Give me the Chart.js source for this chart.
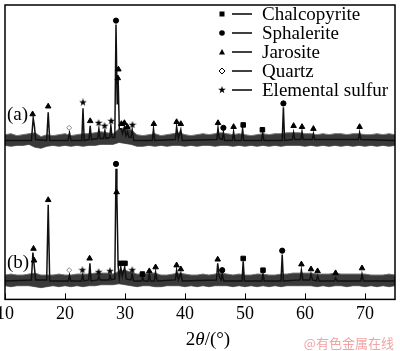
<!DOCTYPE html>
<html>
<head>
<meta charset="utf-8">
<script src="https://cdn.jsdelivr.net/npm/chart.js@4/dist/chart.umd.min.js"></script>
<style>html,body{margin:0;padding:0;background:#fff}</style>
</head>
<body>
<canvas id="xrd" width="400" height="351"></canvas>
<script>
// 2theta / intensity (a.u.) of the two patterns
const traceA_x = [10, 14.4, 14.7, 14.9, 15.1, 16.95, 17.2, 17.45, 20.5, 20.75, 21.0, 22.8, 23.0, 23.2,
  24.0, 24.2, 24.4, 25.45, 25.65, 25.85, 26.45, 26.65, 26.85, 27.45, 27.65, 27.85,
  28.3, 28.5, 28.7, 28.85, 29.05, 29.35, 29.6, 29.9, 30.15, 30.4, 30.7, 31.0, 31.2, 31.45,
  34.55, 34.75, 34.95, 38.4, 38.6, 38.9, 39.3, 39.55, 45.3, 45.5, 45.7, 46.2, 46.4, 46.6,
  47.9, 48.1, 48.3, 49.4, 49.6, 49.8, 52.75, 52.95, 53.15, 56.2, 56.4, 56.6,
  57.9, 58.1, 58.3, 59.3, 59.5, 59.7, 61.2, 61.4, 61.6, 68.9, 69.1, 69.3, 75];
const traceA_y = [163, 163, 186, 178, 164, 163, 192, 163, 163, 171, 163, 163, 196, 163,
  164, 178, 164, 165, 175, 165, 165, 173, 165, 166, 178, 166,
  166, 282, 200, 229, 175, 175, 170, 177, 168, 172, 166, 166, 174, 163,
  163, 175, 163, 164, 177, 165, 174, 163, 164, 176, 165, 164, 171, 163,
  163, 172, 163, 163, 175, 163, 163, 170, 163, 163, 197, 163,
  164, 171, 164, 164, 172, 164, 164, 170, 164, 164, 171, 164, 163];

const traceB_x = [10, 14.4, 14.65, 14.85, 15.1, 16.95, 17.2, 17.45, 20.55, 20.75, 20.95, 22.75, 22.95, 23.15,
  23.95, 24.15, 24.35, 25.45, 25.65, 25.85, 27.3, 27.5, 27.7,
  28.3, 28.5, 28.65, 28.85, 29.05, 29.3, 29.55, 29.95, 30.2, 31.0, 31.2, 31.45,
  32.75, 32.95, 33.15, 33.85, 34.05, 34.25, 34.9, 35.1, 35.35, 38.4, 38.6, 38.9, 39.3, 39.55,
  45.25, 45.45, 45.7, 46.0, 46.2, 46.45, 49.5, 49.7, 49.9, 52.8, 53.0, 53.2, 56.0, 56.2, 56.4,
  59.2, 59.4, 59.65, 60.8, 61.0, 61.25, 61.9, 62.1, 62.35, 64.9, 65.1, 65.35, 69.3, 69.5, 69.75, 75];
const traceB_y = [19, 20, 48, 36, 20, 20, 97, 19, 19, 25, 19, 19, 25, 19,
  20, 37, 19, 20, 24, 20, 20, 25, 20,
  21, 134, 105, 35, 22, 33, 24, 33, 21, 20, 26, 19,
  19, 23, 19, 19, 26, 19, 19, 28, 19, 20, 30, 20, 27, 19,
  20, 37, 24, 20, 26, 19, 19, 39, 19, 19, 26, 19, 19, 46, 19,
  20, 30, 20, 20, 26, 20, 19, 24, 19, 19, 22, 19, 19, 26, 19, 19];

// noise band envelope, one value per degree from 10 to 75
const bandX = [10, 11, 12, 13, 14, 15, 16, 17, 18, 19, 20, 21, 22, 23, 24, 25, 26, 27, 28, 29, 30, 31, 32, 33, 34, 35,
  36, 37, 38, 39, 40, 41, 42, 43, 44, 45, 46, 47, 48, 49, 50, 51, 52, 53, 54, 55, 56, 57, 58, 59, 60, 61, 62, 63, 64, 65,
  66, 67, 68, 69, 70, 71, 72, 73, 74, 75];
const bandA_top = [169, 170, 168, 169, 170, 171, 167, 169, 168, 169, 170, 168, 169, 170, 170, 171, 172, 171, 170, 175,
  176, 174, 169, 168, 169, 170, 168, 169, 170, 171, 169, 168, 169, 170, 169, 170, 171, 170, 169, 170, 169, 168, 169, 170,
  169, 170, 170, 171, 171, 171, 170, 170, 169, 170, 169, 170, 170, 169, 170, 170, 169, 169, 170, 169, 170, 169];
const bandA_bot = [158, 157, 158, 158, 159, 156, 155, 157, 158, 157, 158, 157, 158, 157, 158, 158, 159, 159, 159, 161,
  160, 159, 157, 157, 158, 157, 158, 157, 158, 158, 157, 158, 157, 158, 158, 157, 158, 158, 157, 158, 157, 158, 157, 158,
  157, 158, 157, 158, 158, 158, 157, 158, 157, 158, 157, 158, 157, 158, 157, 158, 157, 158, 157, 158, 157, 158];
const bandB_top = [25, 26, 25, 25, 26, 27, 25, 25, 25, 26, 25, 25, 26, 26, 26, 27, 27, 27, 26, 29,
  30, 28, 26, 26, 27, 27, 25, 25, 26, 27, 26, 25, 25, 26, 25, 26, 27, 26, 25, 26, 25, 25, 26, 26,
  25, 25, 26, 26, 27, 27, 27, 27, 26, 26, 26, 27, 26, 26, 26, 26, 26, 25, 25, 25, 26, 25];
const bandB_bot = [14, 13, 14, 14, 14, 13, 12, 13, 14, 13, 14, 13, 14, 13, 14, 14, 15, 15, 15, 16,
  15, 14, 13, 14, 14, 13, 13, 14, 14, 14, 13, 14, 13, 14, 13, 14, 14, 14, 13, 14, 13, 14, 13, 14,
  13, 14, 13, 14, 14, 14, 14, 14, 13, 14, 13, 14, 14, 13, 14, 14, 13, 14, 13, 14, 13, 14];

// phase markers [2theta, height]
const chalcopyrite = [[49.7, 179], [52.9, 174], [29.3, 37], [30.0, 37], [32.9, 26], [49.7, 42], [53.0, 30]];
const sphalerite = [[28.5, 286], [46.4, 176], [56.4, 201], [28.5, 139], [46.2, 30], [56.2, 50]];
const jarosite = [[14.6, 190], [17.2, 198], [24.2, 183], [28.8, 227], [28.9, 236], [29.4, 180], [29.9, 181], [30.4, 177],
  [34.8, 180], [38.6, 182], [39.3, 180], [45.5, 181], [48.1, 177], [58.1, 178], [59.5, 177], [61.4, 175], [69.1, 177],
  [14.75, 52], [14.85, 40], [17.2, 102], [24.1, 42], [28.6, 110], [34.05, 29], [35.1, 33], [38.6, 35], [39.3, 31],
  [45.45, 41], [59.4, 36], [61.0, 31], [62.1, 29], [65.1, 27], [69.5, 32]];
const quartz = [[20.7, 176], [20.7, 30]];
const sulfur = [[23.0, 202], [25.6, 181], [26.6, 178], [27.7, 183], [31.25, 179], [22.9, 30], [25.6, 28], [27.5, 29], [31.2, 30]];

const xTicks = [10, 20, 30, 40, 50, 60, 70];
const legendNames = ["Chalcopyrite", "Sphalerite", "Jarosite", "Quartz", "Elemental sulfur"];

function pts(xs, ys) { return xs.map((x, i) => ({ x: x, y: ys[i] })); }
function pairs(arr) { return arr.map(p => ({ x: p[0], y: p[1] })); }

function starImg(size) {
  const c = document.createElement("canvas");
  c.width = c.height = size;
  const g = c.getContext("2d");
  g.beginPath();
  for (let i = 0; i < 10; i++) {
    const r = i % 2 ? size * 0.2 : size * 0.5;
    const a = -Math.PI / 2 + i * Math.PI / 5;
    g.lineTo(size / 2 + r * Math.cos(a), size / 2 + r * Math.sin(a));
  }
  g.closePath();
  g.fillStyle = "#000";
  g.fill();
  return c;
}
const star = starImg(8);

function band(data, fill) {
  return { type: "line", data: data, borderColor: "#777", borderWidth: 1, backgroundColor: "#3a3a3a",
    pointRadius: 0, fill: fill, order: 2 };
}
function marks(data, style, r, bg, border) {
  return { type: "scatter", data: data, pointStyle: style, pointRadius: r, pointHoverRadius: r,
    backgroundColor: bg, borderColor: border || bg, borderWidth: 1, order: 0 };
}

// draws frame, inner ticks, legend, labels
const extras = {
  id: "extras",
  afterDraw(chart) {
    const c = chart.ctx, a = chart.chartArea, xs = chart.scales.x;
    c.save();
    c.strokeStyle = "#000";
    c.lineWidth = 1.5;
    c.strokeRect(a.left, a.top, a.right - a.left, a.bottom - a.top);
    c.lineWidth = 1;
    xTicks.forEach(t => {
      const px = Math.round(xs.getPixelForValue(t)) + 0.5;
      c.beginPath(); c.moveTo(px, a.bottom); c.lineTo(px, a.bottom - 6); c.stroke();
    });

    // legend
    c.font = "19px 'Liberation Serif'";
    c.textBaseline = "middle";
    legendNames.forEach((name, i) => {
      const y = 14 + i * 19, mx = 222;
      c.fillStyle = "#000";
      c.strokeStyle = "#000";
      c.lineWidth = 1;
      if (i === 0) c.fillRect(mx - 2.5, y - 2.5, 5, 5);
      if (i === 1) { c.beginPath(); c.arc(mx, y, 2.8, 0, Math.PI * 2); c.fill(); }
      if (i === 2) { c.beginPath(); c.moveTo(mx, y - 3); c.lineTo(mx + 3, y + 2.5); c.lineTo(mx - 3, y + 2.5); c.closePath(); c.fill(); }
      if (i === 3) { c.beginPath(); c.moveTo(mx, y - 3); c.lineTo(mx + 3, y); c.lineTo(mx, y + 3); c.lineTo(mx - 3, y); c.closePath(); c.stroke(); }
      if (i === 4) c.drawImage(star, mx - 4, y - 4);
      c.lineWidth = 1.5;
      c.beginPath(); c.moveTo(232, y); c.lineTo(252, y); c.stroke();
      c.fillText(name, 262, y + 1);
    });

    c.fillText("(a)", 7, 115);
    c.fillText("(b)", 7, 263);

    // axis title with italic theta
    const y = 340;
    c.font = "19px 'Liberation Serif'";
    const w1 = c.measureText("2").width, w3 = c.measureText("/(°)").width;
    c.font = "italic 19px 'Liberation Serif'";
    const w2 = c.measureText("θ").width;
    let x = 208 - (w1 + w2 + w3) / 2;
    c.font = "19px 'Liberation Serif'"; c.fillText("2", x, y); x += w1;
    c.font = "italic 19px 'Liberation Serif'"; c.fillText("θ", x, y); x += w2;
    c.font = "19px 'Liberation Serif'"; c.fillText("/(°)", x, y);

    c.font = "13px 'Noto Sans CJK SC'";
    c.fillStyle = "#f2a3a3";
    c.textAlign = "right";
    c.fillText("@有色金属在线", 394, 343);
    c.restore();
  }
};

new Chart(document.getElementById("xrd"), {
  type: "line",
  data: {
    datasets: [
      marks(pairs(chalcopyrite), "rect", 3.2, "#000"),
      marks(pairs(sphalerite), "circle", 2.6, "#000"),
      marks(pairs(jarosite), "triangle", 3.2, "#000"),
      marks(pairs(quartz), "rectRot", 2.5, "#fff", "#888"),
      marks(pairs(sulfur), star, 4, "#000"),
      { type: "line", data: pts(traceA_x, traceA_y), borderColor: "#111", borderWidth: 1.5, pointRadius: 0, order: 1 },
      { type: "line", data: pts(traceB_x, traceB_y), borderColor: "#111", borderWidth: 1.5, pointRadius: 0, order: 1 },
      band(pts(bandX, bandA_top), "+1"),
      band(pts(bandX, bandA_bot), false),
      band(pts(bandX, bandB_top), "+1"),
      band(pts(bandX, bandB_bot), false)
    ]
  },
  options: {
    responsive: false,
    animation: false,
    devicePixelRatio: 1,
    layout: { padding: { left: 5, right: 2, top: 1, bottom: 22 } },
    plugins: { legend: { display: false }, tooltip: { enabled: false } },
    scales: {
      x: {
        type: "linear", min: 10, max: 75,
        grid: { display: false, drawTicks: false },
        border: { display: false },
        ticks: { stepSize: 10, includeBounds: false, padding: 4, color: "#000",
          font: { family: "'Liberation Serif'", size: 18 } },
        afterFit(scale) { scale.paddingLeft = 0; scale.paddingRight = 0; }
      },
      y: { display: false, min: 0, max: 302 }
    }
  },
  plugins: [extras]
});
</script>
</body>
</html>
